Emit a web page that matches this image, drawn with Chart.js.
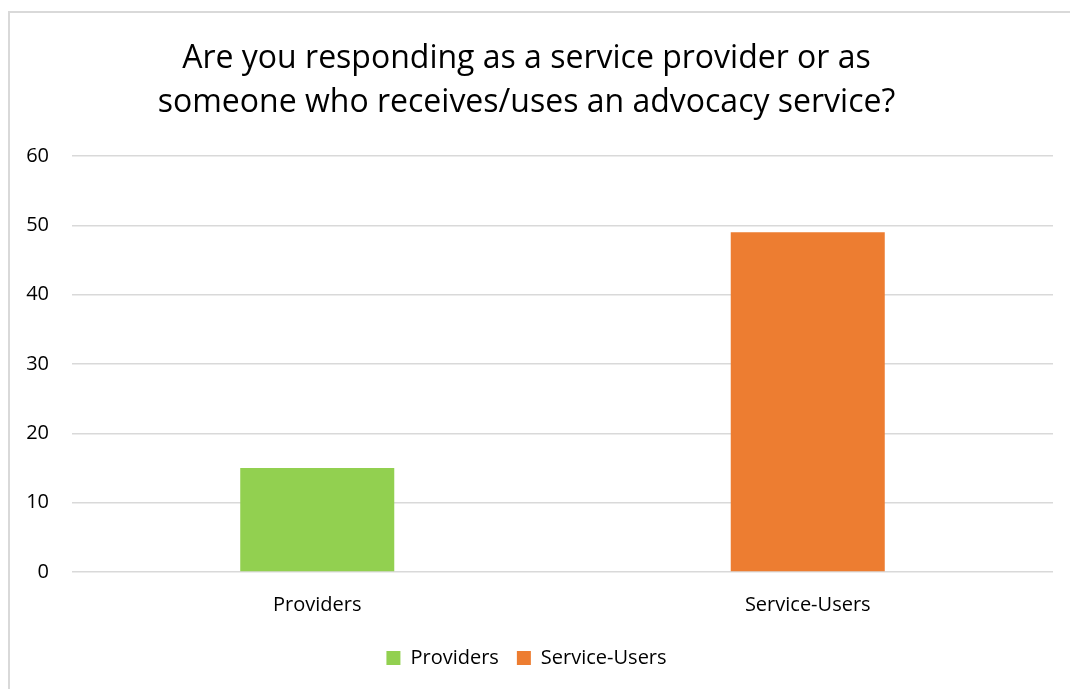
<!DOCTYPE html>
<html>
<head>
<meta charset="utf-8">
<script src="https://cdn.jsdelivr.net/npm/chart.js@4/dist/chart.umd.min.js"></script>
<style>
  html, body { margin: 0; padding: 0; background: #fff; overflow: hidden; }
  #frame {
    position: absolute; left: 8px; top: 11px; width: 1200px; height: 800px;
    border-left: 2px solid #d9d9d9; border-top: 2px solid #d9d9d9;
  }
  #wrap { position: absolute; left: 0; top: 0; width: 1070px; height: 689px; }
</style>
</head>
<body>
<div id="frame"></div>
<div id="wrap"><canvas id="myChart" width="1070" height="689"></canvas></div>
<script>
// categories and counts
var categories = ['Providers', 'Service-Users'];
var providers = [15, null];
var serviceUsers = [null, 49];
var yTicks = [0, 10, 20, 30, 40, 50, 60];

var titleLines = [
    'Are you responding as a service provider or as',
    'someone who receives/uses an advocacy service?'
];

var fontFamily = '"Open Sans", "Noto Sans", sans-serif';

var data = {
    labels: categories,
    datasets: [{
        label: 'Providers',
        data: providers,
        backgroundColor: '#92D050'
    }, {
        label: 'Service-Users',
        data: serviceUsers,
        backgroundColor: '#ED7D31'
    }]
};

var options = {
    responsive: false,
    animation: false,
    layout: { padding: { left: 0, right: 17, top: 0, bottom: 11 } },
    datasets: {
        bar: { categoryPercentage: 1, barPercentage: 0.314 }
    },
    scales: {
        x: {
            stacked: true,
            grid: { display: false },
            border: { display: false },
            ticks: { color: '#000', font: { family: fontFamily, size: 20 }, padding: 13 }
        },
        y: {
            stacked: true,
            min: yTicks[0],
            max: yTicks[yTicks.length - 1],
            afterBuildTicks: function (axis) {
                axis.ticks = yTicks.map(function (v) { return { value: v }; });
            },
            afterFit: function (axis) { axis.width = 72; },
            grid: { color: '#d9d9d9', lineWidth: 1.5, drawTicks: false },
            border: { display: false },
            ticks: { color: '#000', font: { family: fontFamily, size: 20 }, padding: 23 }
        }
    },
    plugins: {
        title: {
            display: true,
            text: titleLines,
            color: '#000',
            font: { family: fontFamily, size: 32, weight: 'normal', lineHeight: 1.375 },
            padding: { top: 37, bottom: 31 }
        },
        legend: {
            position: 'bottom',
            labels: {
                color: '#000',
                font: { family: fontFamily, size: 20 },
                boxWidth: 14,
                boxHeight: 14,
                padding: 18
            }
        },
        tooltip: { enabled: false }
    }
};

var ctx = document.getElementById('myChart').getContext('2d');
var myChart = new Chart(ctx, {
    type: 'bar',
    data: data,
    options: options
});
</script>
</body>
</html>
